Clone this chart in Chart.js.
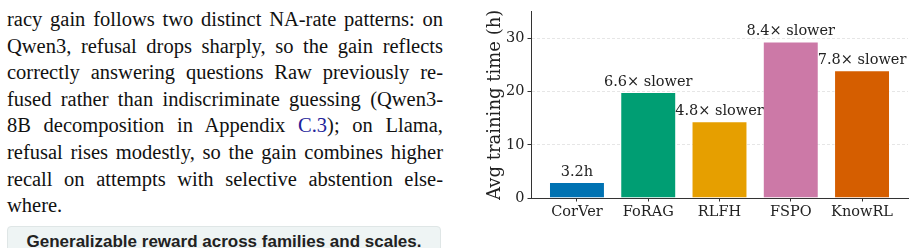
<!DOCTYPE html>
<html>
<head>
<meta charset="utf-8">
<script src="https://cdn.jsdelivr.net/npm/chart.js@4.4.0/dist/chart.umd.min.js"></script>
<style>
  html, body { margin: 0; padding: 0; background: #fff; }
  body { width: 915px; height: 248px; position: relative; overflow: hidden; }
  #text {
    position: absolute; left: 7px; top: 6px; width: 436px;
    font-family: "Liberation Serif", "Times New Roman", serif;
    font-size: 20.5px; line-height: 26.6px; color: #111;
  }
  #text .ln { text-align: justify; text-align-last: justify; white-space: nowrap; }
  #text .ln.last { text-align-last: left; }
  #text a { color: #22229a; text-decoration: none; }
  #box {
    position: absolute; left: 7px; top: 226px; width: 434px; height: 40px;
    background: #eef4f4; border: 1px solid #dfe6e6; border-radius: 4px;
    font-family: "Liberation Sans", Arial, sans-serif; font-weight: bold;
    font-size: 17px; line-height: 19px; color: #222; text-align: center;
    padding-top: 5px; box-sizing: border-box;
  }
  #wrap { position: absolute; left: 470px; top: 0; width: 445px; height: 248px; }
</style>
</head>
<body>
<div id="text">
  <div class="ln">racy gain follows two distinct NA-rate patterns: on</div>
  <div class="ln">Qwen3, refusal drops sharply, so the gain reflects</div>
  <div class="ln">correctly answering questions Raw previously re-</div>
  <div class="ln">fused rather than indiscriminate guessing (Qwen3-</div>
  <div class="ln">8B decomposition in Appendix <a>C.3</a>); on Llama,</div>
  <div class="ln">refusal rises modestly, so the gain combines higher</div>
  <div class="ln">recall on attempts with selective abstention else-</div>
  <div class="ln last">where.</div>
</div>
<div id="box">Generalizable reward across families and scales.</div>
<div id="wrap"><canvas id="chart"></canvas></div>
<script>
// data
const methods = ["CorVer", "FoRAG", "RLFH", "FSPO", "KnowRL"];
const hours = [3.0, 19.9, 14.4, 29.4, 24.0];
const barLabels = ["3.2h", "6.6\u00d7 slower", "4.8\u00d7 slower", "8.4\u00d7 slower", "7.8\u00d7 slower"];
const barColors = ["#0072B2", "#009E73", "#E69F00", "#CC79A7", "#D55E00"];
const yTicks = [0, 10, 20, 30];

const serif = "'DejaVu Serif', serif";

// writes the slowdown text above every bar
const barText = {
  id: "barText",
  afterDatasetsDraw(chart) {
    const ctx = chart.ctx;
    const meta = chart.getDatasetMeta(0);
    ctx.save();
    ctx.font = "14.5px " + serif;
    ctx.fillStyle = "#222";
    ctx.textAlign = "center";
    ctx.textBaseline = "bottom";
    meta.data.forEach((bar, i) => {
      ctx.fillText(barLabels[i], bar.x, bar.y - 3);
    });
    ctx.restore();
  }
};

new Chart(document.getElementById("chart"), {
  type: "bar",
  data: {
    datasets: [{
      data: hours.map((v, i) => ({ x: i, y: v })),
      backgroundColor: barColors,
      borderColor: "rgba(255,255,255,0.55)",
      borderWidth: 1,
      categoryPercentage: 1,
      barPercentage: 0.785
    }]
  },
  options: {
    responsive: true,
    maintainAspectRatio: false,
    animation: false,
    layout: { padding: { top: 9, right: 7, left: 0, bottom: 0 } },
    plugins: { legend: { display: false }, tooltip: { enabled: false } },
    scales: {
      x: {
        type: "linear",
        offset: false,
        min: -0.645,
        max: 4.645,
        afterBuildTicks: (s) => { s.ticks = methods.map((m, i) => ({ value: i })); },
        afterFit: (s) => { s.height = 50; },
        ticks: {
          callback: (v) => methods[v],
          font: { family: serif, size: 14.5 },
          color: "#222",
          padding: 2,
          maxRotation: 0,
          autoSkip: false
        },
        grid: { offset: false, drawOnChartArea: false, tickLength: 3.5, tickColor: "#333" },
        border: { color: "#333", width: 1 }
      },
      y: {
        min: 0,
        max: 35,
        afterBuildTicks: (s) => { s.ticks = yTicks.map(v => ({ value: v })); },
        afterFit: (s) => { s.width = 61; },
        ticks: {
          font: { family: serif, size: 14.5 },
          color: "#222",
          padding: 3
        },
        grid: { color: "#e6e6e6", tickLength: 3.5, tickColor: "#333" },
        border: { color: "#333", width: 1, dash: [3, 2] },
        title: {
          display: true,
          text: "Avg training time (h)",
          font: { family: serif, size: 18 },
          color: "#222",
          padding: { top: 15, bottom: 0 }
        }
      }
    }
  },
  plugins: [barText]
});
</script>
</body>
</html>
